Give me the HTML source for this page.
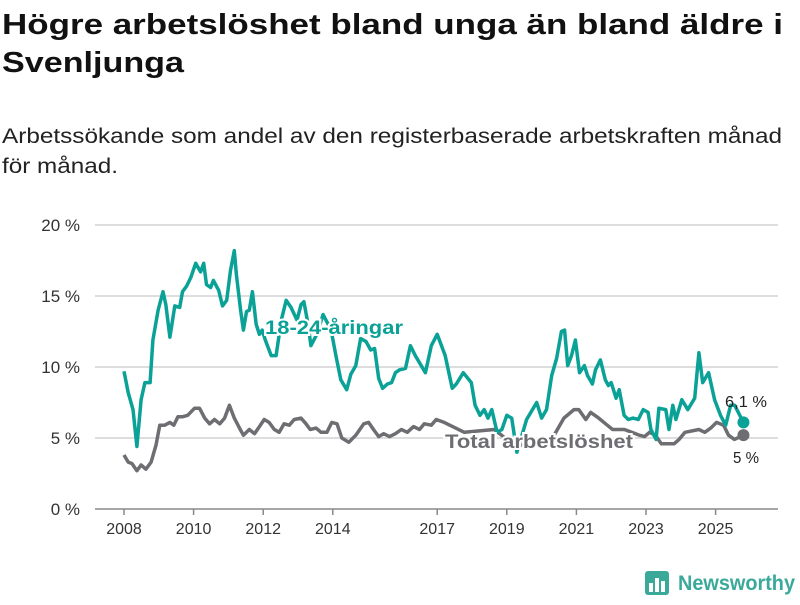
<!DOCTYPE html>
<html><head><meta charset="utf-8"><style>
body{margin:0;background:#fff;width:800px;height:600px;overflow:hidden;font-family:"Liberation Sans",sans-serif}
</style></head><body>
<svg id="c" width="800" height="600" xmlns="http://www.w3.org/2000/svg">
<text x="2" y="34" font-size="29" font-weight="bold" fill="#111" textLength="781" lengthAdjust="spacingAndGlyphs">Högre arbetslöshet bland unga än bland äldre i</text>
<text x="2" y="72" font-size="29" font-weight="bold" fill="#111" textLength="182" lengthAdjust="spacingAndGlyphs">Svenljunga</text>
<text x="2" y="143" font-size="21" fill="#222" textLength="780" lengthAdjust="spacingAndGlyphs">Arbetssökande som andel av den registerbaserade arbetskraften månad</text>
<text x="2" y="173" font-size="21" fill="#222" textLength="116" lengthAdjust="spacingAndGlyphs">för månad.</text>
<g id="grid"></g><g id="xax"></g><g id="lines"></g>
<g>
<rect x="645" y="571" width="24" height="24" rx="3" fill="#3aa99a"/>
<rect x="649" y="583" width="4" height="9" fill="#fff"/><rect x="655" y="578" width="4" height="14" fill="#fff"/><rect x="661" y="581" width="4" height="11" fill="#fff"/>
<text x="678" y="590" font-size="21" font-weight="bold" fill="#3aa99a" textLength="117" lengthAdjust="spacingAndGlyphs">Newsworthy</text>
</g>
</svg>
<script>
const yTicks=[0,5,10,15,20];
const xTicks=[2008,2010,2012,2014,2017,2019,2021,2023,2025];
const youthDates=[2008.0,2008.12,2008.26,2008.37,2008.49,2008.6,2008.75,2008.83,2008.98,2009.12,2009.2,2009.32,2009.46,2009.6,2009.68,2009.8,2009.92,2010.06,2010.2,2010.29,2010.37,2010.49,2010.57,2010.72,2010.83,2010.95,2011.06,2011.17,2011.23,2011.35,2011.43,2011.52,2011.6,2011.69,2011.8,2011.89,2011.97,2012.06,2012.23,2012.37,2012.52,2012.66,2012.8,2012.97,2013.09,2013.17,2013.29,2013.37,2013.54,2013.72,2013.95,2014.09,2014.23,2014.4,2014.52,2014.66,2014.8,2014.95,2015.09,2015.2,2015.32,2015.43,2015.57,2015.69,2015.8,2015.92,2016.09,2016.23,2016.37,2016.66,2016.83,2017.0,2017.23,2017.43,2017.55,2017.75,2017.98,2018.09,2018.23,2018.35,2018.46,2018.57,2018.72,2018.86,2019.0,2019.14,2019.29,2019.57,2019.86,2020.0,2020.14,2020.29,2020.43,2020.57,2020.66,2020.75,2020.86,2020.97,2021.09,2021.23,2021.32,2021.46,2021.55,2021.69,2021.83,2021.92,2022.0,2022.14,2022.23,2022.37,2022.49,2022.63,2022.78,2022.92,2023.06,2023.14,2023.29,2023.37,2023.57,2023.66,2023.77,2023.86,2024.03,2024.2,2024.4,2024.52,2024.63,2024.8,2024.97,2025.14,2025.29,2025.43,2025.55,2025.8];
const youthVals=[9.7,8.2,7.0,4.4,7.7,8.9,8.9,11.9,14.0,15.3,14.4,12.1,14.3,14.2,15.3,15.7,16.3,17.3,16.7,17.3,15.8,15.6,16.1,15.4,14.3,14.7,16.8,18.2,16.5,14.0,12.6,13.9,14.0,15.3,13.0,12.3,12.6,11.9,10.8,10.8,13.3,14.7,14.2,13.3,14.4,14.6,13.0,11.5,12.3,13.7,12.6,10.8,9.1,8.4,9.5,10.1,12.0,11.8,11.2,11.3,9.2,8.5,8.8,8.9,9.6,9.8,9.9,11.5,10.8,9.6,11.5,12.3,10.8,8.5,8.8,9.6,8.9,7.3,6.6,7.0,6.4,7.0,5.4,5.6,6.6,6.4,4.0,6.3,7.5,6.4,7.0,9.4,10.6,12.5,12.6,10.1,10.8,11.9,9.6,10.1,9.4,8.8,9.8,10.5,9.1,8.7,8.9,7.8,8.4,6.6,6.3,6.4,6.3,7.0,6.8,5.6,4.9,7.1,7.0,5.6,7.3,6.3,7.7,7.0,7.8,11.0,8.9,9.6,7.7,6.6,5.9,7.3,7.3,6.1];
const totalDates=[2008.0,2008.12,2008.23,2008.37,2008.49,2008.63,2008.78,2008.92,2009.03,2009.17,2009.32,2009.43,2009.55,2009.69,2009.83,2010.03,2010.17,2010.32,2010.46,2010.6,2010.75,2010.89,2011.03,2011.17,2011.32,2011.43,2011.6,2011.75,2011.89,2012.03,2012.17,2012.32,2012.46,2012.6,2012.75,2012.89,2013.09,2013.23,2013.35,2013.52,2013.66,2013.83,2013.97,2014.12,2014.26,2014.46,2014.66,2014.89,2015.03,2015.17,2015.32,2015.46,2015.63,2015.8,2015.97,2016.14,2016.32,2016.49,2016.63,2016.83,2016.97,2017.2,2017.78,2018.64,2019.21,2019.79,2020.36,2020.64,2020.93,2021.07,2021.27,2021.41,2021.64,2021.84,2022.04,2022.38,2022.81,2022.96,2023.1,2023.27,2023.44,2023.67,2023.81,2023.95,2024.12,2024.52,2024.69,2024.86,2025.03,2025.23,2025.37,2025.54,2025.8];
const totalVals=[3.8,3.3,3.2,2.7,3.1,2.8,3.3,4.5,5.9,5.9,6.1,5.9,6.5,6.5,6.6,7.1,7.1,6.4,6.0,6.3,6.0,6.4,7.3,6.4,5.7,5.2,5.6,5.3,5.8,6.3,6.1,5.6,5.4,6.0,5.9,6.3,6.4,6.0,5.6,5.7,5.4,5.4,6.1,6.0,5.0,4.7,5.2,6.0,6.1,5.6,5.1,5.3,5.1,5.3,5.6,5.4,5.8,5.6,6.0,5.9,6.3,6.1,5.4,5.6,4.5,4.5,5.2,6.4,7.0,7.0,6.3,6.8,6.4,6.0,5.6,5.6,5.2,5.1,5.4,5.2,4.6,4.6,4.6,4.9,5.4,5.6,5.4,5.7,6.1,5.9,5.2,4.9,5.2,5.0];
const NS="http://www.w3.org/2000/svg";
const X=y=>124+(y-2008)*34.8, Y=v=>509-v*14.2;
function mk(t,a,p){const e=document.createElementNS(NS,t);for(const k in a)e.setAttribute(k,a[k]);p.appendChild(e);return e;}
const g=document.getElementById('grid'),xa=document.getElementById('xax'),L=document.getElementById('lines');
yTicks.forEach(v=>{
 const l=mk('line',{x1:95,x2:778,y1:Y(v),y2:Y(v),stroke:v===0?'#888':'#ddd','stroke-width':v===0?1.5:2},g);
 
 
 const t=mk('text',{x:80,y:Y(v)+6,'text-anchor':'end','font-size':17,fill:'#333'},g);
 
 
 t.textContent=v+' %';
});
xTicks.forEach(yr=>{
 const l=mk('line',{x1:X(yr),x2:X(yr),y1:509,y2:515,stroke:'#888','stroke-width':1.5},xa);
 
 
 const t=mk('text',{x:X(yr),y:534,'text-anchor':'middle','font-size':16,fill:'#333'},xa);
 
 
 t.textContent=yr;
});
function line(d,v,c,name){
 const p=mk('path',{d:d.map((x,i)=>(i?'L':'M')+X(x).toFixed(1)+','+Y(v[i]).toFixed(1)).join(''),fill:'none',stroke:c,'stroke-width':3.5,'stroke-linejoin':'round'},L);
 
 
 const n=Math.min(d.length,v.length)-1;
 const dot=mk('circle',{cx:X(d[n]),cy:Y(v[n]),r:6,fill:c},L);
 
 
}
line(totalDates,totalVals,'#6e6d72','total-line');
line(youthDates,youthVals,'#0aa196','youth-line');
function lab(x,y,txt,c,name,bold,size,len){
 const a={x:x,y:y,'font-size':size,'font-weight':bold?'bold':'normal',fill:c,stroke:bold?'#fff':'none','stroke-width':bold?4:0,'paint-order':'stroke'};
 if(len){a.textLength=len;a.lengthAdjust='spacingAndGlyphs';}
 const t=mk('text',a,L);
 
 
 t.textContent=txt;
}
lab(265,334,'18-24-åringar','#0aa196','youth-series-label',true,19,138);
lab(445,448,'Total arbetslöshet','#6e6d72','total-series-label',true,19,188);
lab(725,407,'6,1 %','#222','youth-end-value',false,16,42);
lab(733,463,'5 %','#222','total-end-value',false,16,26);
</script>
</body></html>
